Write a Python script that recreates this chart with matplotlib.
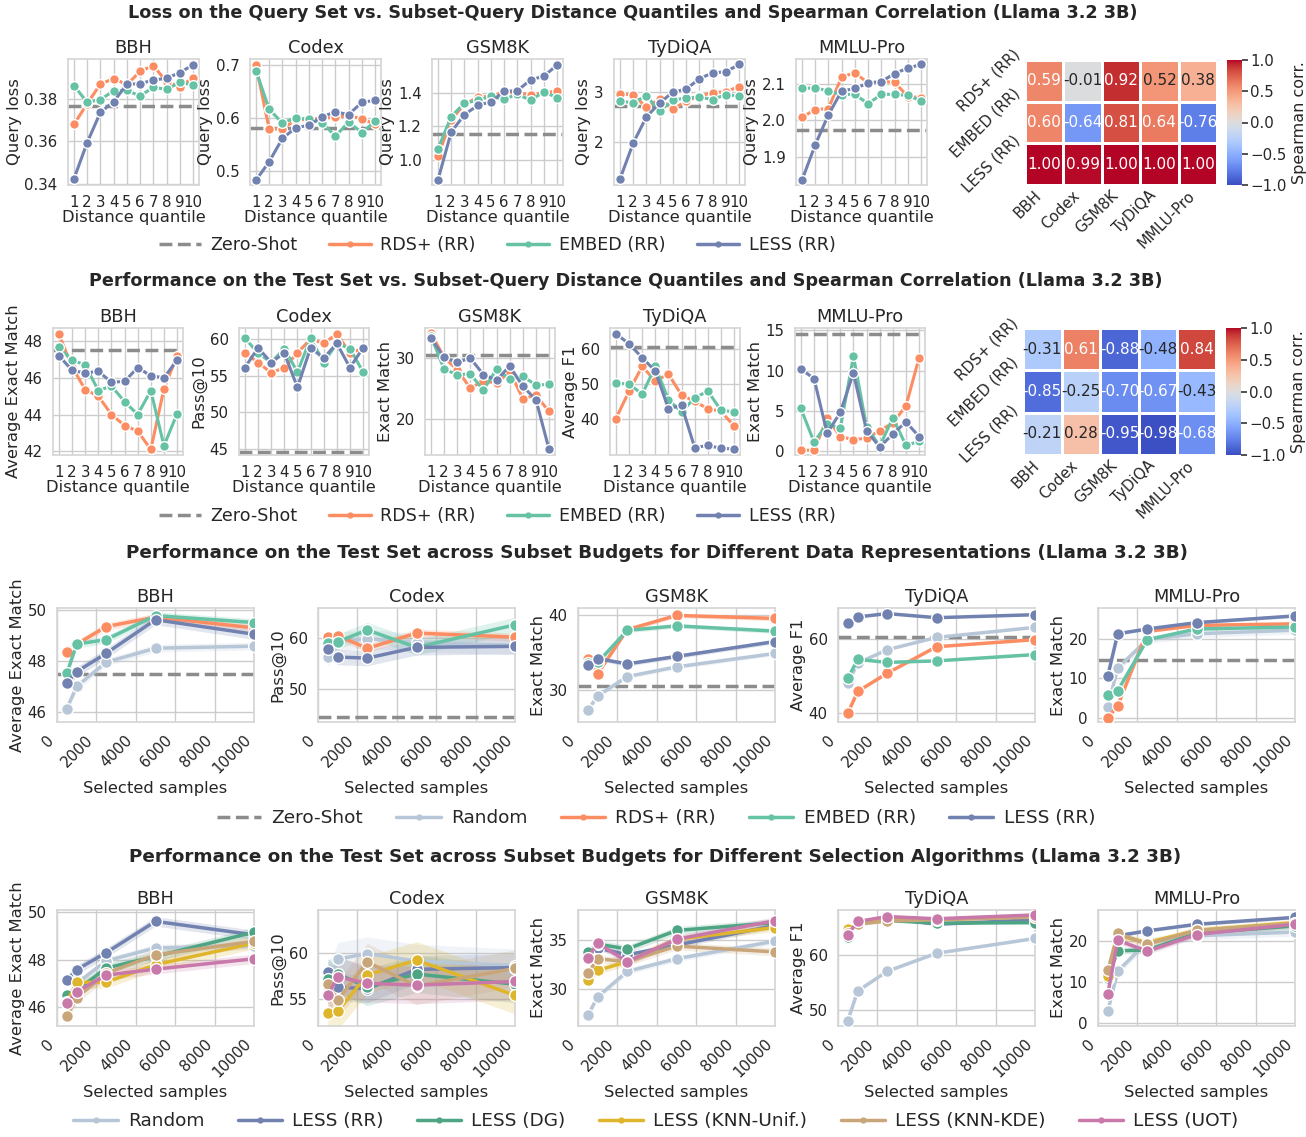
import numpy as np
import matplotlib
matplotlib.use("Agg")
import matplotlib.pyplot as plt
from matplotlib.lines import Line2D
import seaborn as sns

################################################################################
# data
tasks = ['BBH', 'Codex', 'GSM8K', 'TyDiQA', 'MMLU-Pro']
metrics = ['Average Exact Match', 'Pass@10', 'Exact Match', 'Average F1', 'Exact Match']
quantiles = [1, 2, 3, 4, 5, 6, 7, 8, 9, 10]
samples = [500, 1000, 2500, 5000, 10000]
rr_methods = ['RDS+ (RR)', 'EMBED (RR)', 'LESS (RR)']

# row 1 : query loss per distance quantile
q_bbh_rds = [0.368, 0.3778, 0.387, 0.3896, 0.3867, 0.393, 0.3957, 0.388, 0.3858, 0.3899]
q_bbh_embed = [0.3863, 0.3784, 0.3797, 0.3838, 0.384, 0.3814, 0.3855, 0.3845, 0.3878, 0.3866]
q_bbh_less = [0.3424, 0.3595, 0.3737, 0.3787, 0.3869, 0.3872, 0.3889, 0.3897, 0.3924, 0.3960]
q_codex_rds = [0.700, 0.580, 0.580, 0.597, 0.598, 0.600, 0.602, 0.605, 0.599, 0.589]
q_codex_embed = [0.690, 0.617, 0.591, 0.601, 0.598, 0.592, 0.566, 0.593, 0.573, 0.594]
q_codex_less = [0.483, 0.518, 0.562, 0.582, 0.587, 0.603, 0.612, 0.607, 0.630, 0.634]
q_gsm_rds = [1.022, 1.24, 1.33, 1.372, 1.38, 1.404, 1.40, 1.388, 1.40, 1.41]
q_gsm_embed = [1.066, 1.258, 1.338, 1.354, 1.38, 1.36, 1.392, 1.354, 1.406, 1.37]
q_gsm_less = [0.882, 1.166, 1.27, 1.324, 1.346, 1.408, 1.412, 1.476, 1.498, 1.564]
q_tydi_rds = [2.96, 2.95, 2.69, 2.86, 2.65, 2.82, 2.92, 2.99, 3.01, 3.11]
q_tydi_embed = [2.82, 2.78, 2.93, 2.61, 2.84, 2.88, 2.90, 2.85, 2.95, 2.92]
q_tydi_less = [1.24, 1.966, 2.50, 2.78, 3.0, 3.06, 3.27, 3.39, 3.41, 3.56]
q_mmlu_rds = [2.008, 2.029, 2.032, 2.119, 2.13, 2.102, 2.106, 2.104, 2.065, 2.062]
q_mmlu_embed = [2.087, 2.089, 2.08, 2.07, 2.071, 2.045, 2.071, 2.071, 2.068, 2.053]
q_mmlu_less = [1.835, 1.932, 2.015, 2.08, 2.087, 2.102, 2.106, 2.128, 2.143, 2.153]
q_zero = [0.3765, 0.582, 1.156, 2.71, 1.974]

# row 2 : test performance per distance quantile
t_bbh_rds = [48.35, 46.6, 45.35, 45.0, 44.0, 43.4, 43.1, 42.1, 45.4, 47.2]
t_bbh_embed = [47.65, 46.95, 46.7, 45.3, 45.55, 44.7, 44.0, 45.3, 42.3, 44.05]
t_bbh_less = [47.2, 46.4, 46.25, 46.35, 45.75, 45.8, 46.55, 46.1, 46.0, 46.95]
t_codex_rds = [58.1, 56.8, 55.4, 56.1, 58.1, 60.0, 59.4, 60.7, 58.1, 58.7]
t_codex_embed = [60.1, 58.1, 56.8, 58.7, 55.5, 60.1, 56.8, 59.4, 58.7, 55.5]
t_codex_less = [56.1, 58.8, 56.8, 58.1, 53.4, 58.8, 57.4, 59.4, 56.1, 58.8]
t_gsm_rds = [34.1, 30.1, 28.1, 25.1, 26.3, 25.9, 27.8, 23.4, 23.9, 21.3]
t_gsm_embed = [33.6, 28.2, 27.3, 27.4, 24.8, 28.2, 26.6, 27.0, 25.6, 25.7]
t_gsm_less = [33.3, 30.1, 29.3, 30.0, 27.3, 26.4, 28.7, 25.4, 23.2, 15.1]
t_tydi_rds = [40.2, 48.0, 55.0, 50.9, 52.8, 46.9, 45.1, 43.0, 42.3, 38.1]
t_tydi_embed = [50.2, 50.1, 47.1, 55.0, 45.6, 42.1, 46.1, 48.0, 42.6, 42.1]
t_tydi_less = [64.3, 61.4, 57.5, 53.7, 43.0, 44.0, 32.0, 32.6, 31.8, 31.6]
t_mmlu_rds = [0.1, 0.1, 4.1, 1.8, 1.4, 1.6, 2.5, 3.5, 5.6, 11.6]
t_mmlu_embed = [5.3, 1.1, 3.4, 2.8, 11.8, 3.0, 0.6, 4.1, 0.7, 1.2]
t_mmlu_less = [10.2, 9.0, 2.2, 4.8, 9.7, 2.5, 0.5, 2.1, 3.6, 1.8]
t_zero = [47.5, 44.6, 30.5, 60.5, 14.6]

# spearman correlations (rows: RDS+, EMBED, LESS)
corr_loss = [[0.59, -0.01, 0.92, 0.52, 0.38],
             [0.60, -0.64, 0.81, 0.64, -0.76],
             [1.00, 0.99, 1.00, 1.00, 1.00]]
corr_perf = [[-0.31, 0.61, -0.88, -0.48, 0.84],
             [-0.85, -0.25, -0.70, -0.67, -0.43],
             [-0.21, 0.28, -0.95, -0.98, -0.68]]

# rows 3/4 : performance per budget
b_bbh_random = [46.13, 47.0, 47.95, 48.5, 48.58]
b_bbh_rds = [48.37, 48.66, 49.35, 49.72, 49.3]
b_bbh_embed = [47.51, 48.66, 48.84, 49.78, 49.51]
b_bbh_less = [47.14, 47.58, 48.30, 49.62, 49.05]
b_codex_random = [56.3, 59.3, 59.9, 59.1, 58.6]
b_codex_rds = [60.2, 60.5, 58.0, 61.0, 60.2]
b_codex_embed = [59.1, 59.3, 61.6, 58.2, 62.6]
b_codex_less = [57.9, 56.3, 56.1, 58.2, 58.4]
b_gsm_random = [27.3, 29.2, 31.8, 33.1, 34.9]
b_gsm_rds = [34.2, 32.2, 38.1, 40.0, 39.6]
b_gsm_embed = [33.6, 33.7, 38.0, 38.6, 37.9]
b_gsm_less = [33.4, 34.2, 33.5, 34.5, 36.5]
b_tydi_random = [48.0, 53.4, 57.0, 60.3, 63.0]
b_tydi_rds = [40.0, 45.8, 50.7, 57.8, 59.7]
b_tydi_embed = [49.3, 54.4, 53.6, 54.0, 55.7]
b_tydi_less = [64.3, 65.8, 66.7, 65.6, 66.4]
b_mmlu_random = [2.9, 12.6, 19.8, 21.3, 22.2]
b_mmlu_rds = [0.0, 3.1, 21.9, 23.4, 23.8]
b_mmlu_embed = [5.7, 6.9, 19.8, 22.5, 23.0]
b_mmlu_less = [10.7, 21.3, 22.5, 24.1, 25.8]

a_bbh_dg = [46.51, 46.7, 47.65, 48.14, 49.16]
a_bbh_unif = [46.2, 47.04, 47.05, 47.79, 48.7]
a_bbh_kde = [45.62, 46.4, 47.43, 48.2, 48.78]
a_bbh_uot = [46.18, 46.65, 47.35, 47.6, 48.04]
a_codex_dg = [57.2, 57.7, 56.3, 57.7, 56.6]
a_codex_unif = [53.5, 53.7, 57.6, 59.2, 55.4]
a_codex_kde = [56.6, 54.9, 59.0, 56.4, 58.3]
a_codex_uot = [55.4, 57.4, 56.7, 56.5, 56.9]
a_gsm_dg = [33.8, 34.6, 34.1, 36.0, 36.8]
a_gsm_unif = [30.9, 31.9, 32.8, 35.1, 36.3]
a_gsm_kde = [31.6, 33.1, 32.8, 34.4, 33.8]
a_gsm_uot = [33.2, 34.7, 32.8, 35.1, 37.0]
a_tydi_dg = [63.3, 65.8, 66.3, 65.8, 65.9]
a_tydi_unif = [64.8, 66.0, 66.6, 66.5, 67.0]
a_tydi_kde = [64.0, 65.6, 66.2, 66.4, 66.9]
a_tydi_uot = [63.7, 66.1, 67.0, 66.6, 67.3]
a_mmlu_dg = [11.0, 17.6, 17.8, 21.9, 23.7]
a_mmlu_unif = [11.4, 21.4, 19.6, 22.6, 24.5]
a_mmlu_kde = [12.8, 21.9, 19.2, 22.6, 24.3]
a_mmlu_uot = [7.1, 20.2, 17.5, 21.6, 24.1]

# confidence band half widths, per task (BBH, Codex, GSM8K, TyDiQA, MMLU-Pro)
ci_random = [0.15, 1.8, 0.3, 0.25, 1.0]
ci_rds = [0.15, 0.8, 0.3, 0.2, 0.4]
ci_embed = [0.15, 1.5, 0.3, 0.2, 0.4]
ci_less = [0.2, 1.5, 0.3, 0.2, 0.4]
ci_dg = [0.2, 2.0, 0.4, 0.3, 0.8]
ci_unif = [0.25, 2.0, 0.4, 0.3, 0.8]
ci_kde = [0.25, 2.0, 0.4, 0.3, 0.8]
ci_uot = [0.2, 2.0, 0.4, 0.3, 0.8]

################################################################################
# assemble
q_rows = {'RDS+ (RR)': [q_bbh_rds, q_codex_rds, q_gsm_rds, q_tydi_rds, q_mmlu_rds],
          'EMBED (RR)': [q_bbh_embed, q_codex_embed, q_gsm_embed, q_tydi_embed, q_mmlu_embed],
          'LESS (RR)': [q_bbh_less, q_codex_less, q_gsm_less, q_tydi_less, q_mmlu_less]}
t_rows = {'RDS+ (RR)': [t_bbh_rds, t_codex_rds, t_gsm_rds, t_tydi_rds, t_mmlu_rds],
          'EMBED (RR)': [t_bbh_embed, t_codex_embed, t_gsm_embed, t_tydi_embed, t_mmlu_embed],
          'LESS (RR)': [t_bbh_less, t_codex_less, t_gsm_less, t_tydi_less, t_mmlu_less]}
random_all = [b_bbh_random, b_codex_random, b_gsm_random, b_tydi_random, b_mmlu_random]
less_all = [b_bbh_less, b_codex_less, b_gsm_less, b_tydi_less, b_mmlu_less]
b_rows = {'Random': (random_all, ci_random),
          'RDS+ (RR)': ([b_bbh_rds, b_codex_rds, b_gsm_rds, b_tydi_rds, b_mmlu_rds], ci_rds),
          'EMBED (RR)': ([b_bbh_embed, b_codex_embed, b_gsm_embed, b_tydi_embed, b_mmlu_embed], ci_embed),
          'LESS (RR)': (less_all, ci_less)}
a_rows = {'Random': (random_all, ci_random),
          'LESS (RR)': (less_all, ci_less),
          'LESS (DG)': ([a_bbh_dg, a_codex_dg, a_gsm_dg, a_tydi_dg, a_mmlu_dg], ci_dg),
          'LESS (KNN-Unif.)': ([a_bbh_unif, a_codex_unif, a_gsm_unif, a_tydi_unif, a_mmlu_unif], ci_unif),
          'LESS (KNN-KDE)': ([a_bbh_kde, a_codex_kde, a_gsm_kde, a_tydi_kde, a_mmlu_kde], ci_kde),
          'LESS (UOT)': ([a_bbh_uot, a_codex_uot, a_gsm_uot, a_tydi_uot, a_mmlu_uot], ci_uot)}

################################################################################
# styles
colors = {
    'Zero-Shot': '#8c8c8c',
    'Random': '#b7c7d7',
    'RDS+ (RR)': '#fc8d62',
    'EMBED (RR)': '#66c2a5',
    'LESS (RR)': '#7282b0',
    'LESS (DG)': '#4ea584',
    'LESS (KNN-Unif.)': '#dfb52c',
    'LESS (KNN-KDE)': '#c9a679',
    'LESS (UOT)': '#c978aa',
}
ylims = {
    'q': [(0.3395, 0.3988), (0.474, 0.712), (0.852, 1.6), (1.12, 3.67), (1.822, 2.168)],
    't': [(41.8, 48.7), (44.2, 61.5), (14.2, 34.9), (29.9, 65.9), (-0.5, 15.3)],
    'b': [(45.6, 50.08), (43.6, 65.9), (25.7, 41.0), (37.6, 68.2), (-1.0, 27.8)],
    'a': [(45.2, 50.1), (52.1, 64.6), (26.2, 38.1), (47.0, 68.2), (-0.8, 27.6)],
}
yticks = {
    'q': [[0.34, 0.36, 0.38], [0.5, 0.6, 0.7], [1.0, 1.2, 1.4], [2, 3], [1.9, 2.0, 2.1]],
    't': [[42, 44, 46, 48], [45, 50, 55, 60], [20, 30], [40, 50, 60], [0, 5, 10, 15]],
    'b': [[46, 48, 50], [50, 60], [30, 40], [40, 60], [0, 10, 20]],
    'a': [[46, 48, 50], [55, 60], [30, 35], [50, 60], [0, 10, 20]],
}

sns.set_theme(style='whitegrid')
plt.rcParams['font.family'] = ['DejaVu Sans']
plt.rcParams['axes.titlesize'] = 12.8
plt.rcParams['axes.labelsize'] = 11.8
plt.rcParams['xtick.labelsize'] = 10.8
plt.rcParams['ytick.labelsize'] = 10.8

W, H = 1306, 1137
fig = plt.figure(figsize=(W / 100, H / 100), dpi=100)

def box(l, t, r, b):
    return [l / W, 1 - b / H, (r - l) / W, (b - t) / H]

def style_ax(ax):
    for s in ax.spines.values():
        s.set_color('#d6d6d6')
    ax.tick_params(axis='both', pad=1.5)

def line(ax, x, y, c, ms=7, lw=2.2, z=3):
    ax.plot(x, y, color=c, lw=lw, marker='o', ms=ms, mec='white', mew=1.0, zorder=z)

################################################################################
# rows 1 and 2 : distance quantiles
def quantile_row(key, rows, zero, lefts, width, top, bottom):
    for i, task in enumerate(tasks):
        ax = fig.add_axes(box(lefts[i], top, lefts[i] + width, bottom))
        style_ax(ax)
        ax.axhline(zero[i], color=colors['Zero-Shot'], ls='--', lw=2.5, zorder=2)
        for z, m in enumerate(rr_methods):
            line(ax, quantiles, rows[m][i], colors[m], z=3 + z)
        ax.set_xticks(quantiles)
        ax.set_xticklabels([str(q) for q in quantiles])
        ax.set_xlim(0.55, 10.45)
        ax.set_ylim(*ylims[key][i])
        ax.set_yticks(yticks[key][i])
        ax.set_title(task, pad=4)
        ax.set_xlabel('Distance quantile', labelpad=0)
        ax.set_ylabel('Query loss' if key == 'q' else metrics[i], labelpad=2)

def heat(corr, hbox, cbox):
    hax = fig.add_axes(box(*hbox))
    cax = fig.add_axes(box(*cbox))
    sns.heatmap(np.array(corr), ax=hax, cbar_ax=cax, cmap='coolwarm', vmin=-1, vmax=1,
                annot=True, fmt='.2f', linewidths=1, linecolor='white',
                annot_kws={'size': 11}, xticklabels=tasks, yticklabels=rr_methods)
    hax.set_xticklabels(tasks, rotation=45, ha='right', fontsize=10.8)
    hax.set_yticklabels(rr_methods, rotation=45, ha='right', va='center', fontsize=10.8)
    hax.tick_params(axis='both', length=0, pad=2)
    cax.set_yticks([-1.0, -0.5, 0.0, 0.5, 1.0])
    cax.tick_params(labelsize=10.8, length=4, width=1.2, color='#333333', pad=2)
    cax.set_ylabel('Spearman corr.', fontsize=11.5)
    for s in cax.spines.values():
        s.set_visible(False)

quantile_row('q', q_rows, q_zero, [68, 250, 432, 614, 796], 131, 59, 185)
heat(corr_loss, (1025, 60, 1217, 185), (1227, 60, 1242, 185))
quantile_row('t', t_rows, t_zero, [53, 239, 425, 610, 795], 130, 328, 455)
heat(corr_perf, (1023, 328, 1216, 455), (1226, 328, 1241, 455))

################################################################################
# rows 3 and 4 : budgets
def budget_row(key, rows, zero, lefts, width, top, bottom):
    for i, task in enumerate(tasks):
        ax = fig.add_axes(box(lefts[i], top, lefts[i] + width, bottom))
        style_ax(ax)
        if zero is not None:
            ax.axhline(zero[i], color=colors['Zero-Shot'], ls='--', lw=2.5, zorder=2)
        for z, (m, (vals, ci)) in enumerate(rows.items()):
            y = np.array(vals[i])
            ax.fill_between(samples, y - ci[i], y + ci[i], color=colors[m], alpha=0.2, lw=0, zorder=2.5)
            line(ax, samples, y, colors[m], ms=8.5, lw=2.5, z=3 + z)
        ax.set_xlim(0, 10000)
        ax.set_xticks([0, 2000, 4000, 6000, 8000, 10000])
        ax.set_xticklabels(['0', '2000', '4000', '6000', '8000', '10000'], rotation=45, ha='right')
        ax.set_ylim(*ylims[key][i])
        ax.set_yticks(yticks[key][i])
        ax.set_title(task, pad=4)
        ax.set_xlabel('Selected samples', labelpad=3)
        ax.set_ylabel(metrics[i], labelpad=2)

budget_lefts = [57, 318, 578, 838, 1098]
budget_row('b', b_rows, t_zero, budget_lefts, 197, 608, 722)
budget_row('a', a_rows, None, budget_lefts, 197, 910, 1026)

################################################################################
# titles and legends
titles = [
    (633, 13, 12.7, 'Loss on the Query Set vs. Subset-Query Distance Quantiles and Spearman Correlation (Llama 3.2 3B)'),
    (626, 281, 12.7, 'Performance on the Test Set vs. Subset-Query Distance Quantiles and Spearman Correlation (Llama 3.2 3B)'),
    (657, 553, 13.2, 'Performance on the Test Set across Subset Budgets for Different Data Representations (Llama 3.2 3B)'),
    (655, 857, 13.2, 'Performance on the Test Set across Subset Budgets for Different Selection Algorithms (Llama 3.2 3B)'),
]
for x, y, fs, s in titles:
    fig.text(x / W, 1 - y / H, s, ha='center', va='center', fontsize=fs, fontweight='bold', color='#262626')

def handle(name):
    if name == 'Zero-Shot':
        return Line2D([], [], color=colors[name], ls='--', lw=2.5)
    return Line2D([], [], color=colors[name], lw=2.5, marker='o', ms=3.5, mec=colors[name])

def legend(names, cx, cy, fs):
    fig.legend([handle(n) for n in names], names, loc='center', bbox_to_anchor=(cx / W, 1 - cy / H),
               ncol=len(names), frameon=False, fontsize=fs, handlelength=2.4,
               handletextpad=0.55, columnspacing=1.8)

legend(['Zero-Shot'] + rr_methods, 497, 245, 12.6)
legend(['Zero-Shot'] + rr_methods, 497, 516, 12.6)
legend(['Zero-Shot', 'Random'] + rr_methods, 656, 818, 13.3)
legend(list(a_rows.keys()), 656, 1121, 13.3)

fig.savefig('out.png', dpi=100)
